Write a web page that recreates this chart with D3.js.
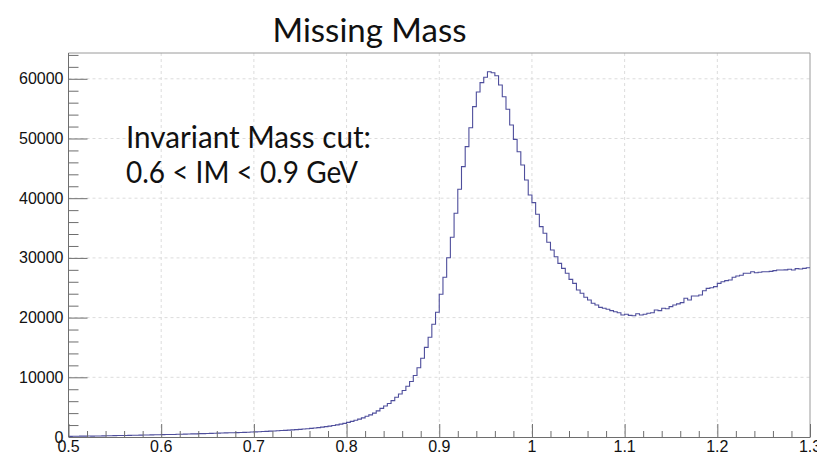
<!DOCTYPE html>
<html>
<head>
<meta charset="utf-8">
<script src="https://cdn.jsdelivr.net/npm/d3@7"></script>
<style>
  body { margin: 0; background: #fff; }
  svg { display: block; }
</style>
</head>
<body>
<script>
// histogram: 200 bins from 0.5 to 1.3 (bin width 0.004)
var binStart = 0.5, binWidth = 0.004;

var counts = [
  110, 130, 120, 140, 150, 160, 150, 170, 180, 190,
  200, 210, 230, 240, 250, 260, 280, 290, 300, 310,
  330, 340, 350, 370, 380,
  400, 410, 430, 420, 450, 470, 480, 500, 520, 530,
  560, 570, 590, 610, 620, 650, 660, 690, 700, 720,
  740, 760, 780, 800, 830,
  860, 890, 920, 940, 980, 1010, 1040, 1080, 1110, 1150,
  1190, 1240, 1280, 1330, 1380, 1440, 1500, 1570, 1650, 1730,
  1820, 1920, 2030, 2150, 2280,
  2450, 2620, 2800, 3000, 3200, 3480, 3700, 4000, 4380, 4800,
  5200, 5600, 6100, 6650, 7200, 7800, 8500, 9300, 10300, 11600,
  13200, 15020, 16700, 18880, 20890, 23900, 26750, 30030, 33450, 37470,
  41490, 45280, 48630, 51810, 55330, 57790, 59350, 60250, 61190,
  61020, 60520, 58960, 57000, 54890, 52260, 49860, 47790, 45560, 43050,
  40540, 39250, 37300, 35230, 34120, 32610,
  31320, 30200, 29090, 28250, 27420, 26410, 25740, 24620, 24070, 23400,
  22950, 22400, 22110, 21720, 21560, 21390, 21160, 20990, 20820, 20440,
  20550, 20380, 20300, 20650, 20440, 20550, 20720, 20820, 21270, 21160,
  21560, 21490, 21830, 22110, 22300, 22500, 23230, 22950, 23620, 23620,
  23785, 24500, 24900, 25000, 25180, 25740, 26010, 26200, 26300, 26750,
  26970, 27100, 27420, 27420, 27690, 27520, 27600, 27690, 27690, 27750,
  27860, 27970, 27970, 28000, 28090, 27970, 28200, 28150, 28250, 28360
];

var xMajor = [0.5, 0.6, 0.7, 0.8, 0.9, 1.0, 1.1, 1.2, 1.3];
var xLabels = ["0.5", "0.6", "0.7", "0.8", "0.9", "1", "1.1", "1.2", "1.3"];
var yMajor = [0, 10000, 20000, 30000, 40000, 50000, 60000];
var yLabels = ["0", "10000", "20000", "30000", "40000", "50000", "60000"];

var title = "Missing Mass";
var note = ["Invariant Mass cut:", "0.6 < IM < 0.9 GeV"];

(function() {
  var width = 817, height = 462;
  var pLeft = 68.5, pRight = 810, pTop = 53, pBottom = 437;

  var svg = d3.select("body").append("svg")
    .attr("width", width)
    .attr("height", height);

  var x = d3.scaleLinear().domain([0.5, 1.3]).range([pLeft, pRight]);
  var y = d3.scaleLinear().domain([0, 64320]).range([pBottom, pTop]);

  // grid
  svg.append("g")
    .selectAll("line")
    .data(xMajor.slice(1, -1))
    .enter().append("line")
      .attr("x1", function(d) { return x(d); })
      .attr("x2", function(d) { return x(d); })
      .attr("y1", pTop)
      .attr("y2", pBottom)
      .attr("stroke", "#dcdcdc")
      .attr("stroke-dasharray", "3,3");

  svg.append("g")
    .selectAll("line")
    .data(yMajor.slice(1))
    .enter().append("line")
      .attr("x1", pLeft)
      .attr("x2", pRight)
      .attr("y1", function(d) { return y(d); })
      .attr("y2", function(d) { return y(d); })
      .attr("stroke", "#dcdcdc")
      .attr("stroke-dasharray", "3,3");

  // frame top / right
  svg.append("path")
    .attr("d", "M" + pLeft + "," + pTop + "H" + pRight + "V" + pBottom)
    .attr("fill", "none")
    .attr("stroke", "#9a9a9a");

  // histogram outline
  var pts = [];
  counts.forEach(function(c, i) {
    var x0 = binStart + i * binWidth;
    pts.push([x0, c]);
    pts.push([x0 + binWidth, c]);
  });

  svg.append("path")
    .datum(pts)
    .attr("fill", "none")
    .attr("stroke", "#4e4e9c")
    .attr("stroke-width", 1.1)
    .attr("d", d3.line()
      .x(function(d) { return x(d[0]); })
      .y(function(d) { return y(d[1]); }));

  // x axis
  var xAxis = d3.axisTop(x)
    .tickValues(d3.range(0.5, 1.3001, 0.02))
    .tickSizeInner(6)
    .tickSizeOuter(0)
    .tickFormat("");

  var gx = svg.append("g")
    .attr("transform", "translate(0," + pBottom + ")")
    .call(xAxis);

  gx.selectAll(".tick line")
    .attr("y2", function(d) {
      var isMajor = xMajor.some(function(m) { return Math.abs(m - d) < 1e-6; });
      return isMajor ? -13 : -6;
    });

  gx.selectAll("line, path").attr("stroke", "#6e6e6e");

  svg.append("g")
    .selectAll("text")
    .data(xMajor)
    .enter().append("text")
      .attr("x", function(d) { return x(d); })
      .attr("y", pBottom + 15)
      .attr("text-anchor", "middle")
      .attr("font-family", "Liberation Sans, Arial, sans-serif")
      .attr("font-size", 16)
      .attr("fill", "#111")
      .text(function(d, i) { return xLabels[i]; });

  // y axis
  var yAxis = d3.axisRight(y)
    .tickValues(d3.range(0, 64001, 2000))
    .tickSizeOuter(0)
    .tickFormat("");

  var gy = svg.append("g")
    .attr("transform", "translate(" + pLeft + ",0)")
    .call(yAxis);

  gy.selectAll(".tick line")
    .attr("x2", function(d) { return d % 10000 === 0 ? 19 : 10; });

  gy.select(".domain").attr("d", "M0," + pTop + "V" + pBottom);
  gy.selectAll("line, path").attr("stroke", "#6e6e6e");

  svg.append("g")
    .selectAll("text")
    .data(yMajor)
    .enter().append("text")
      .attr("x", pLeft - 5)
      .attr("y", function(d) { return y(d); })
      .attr("dy", "0.35em")
      .attr("text-anchor", "end")
      .attr("font-family", "Liberation Sans, Arial, sans-serif")
      .attr("font-size", 16)
      .attr("fill", "#111")
      .text(function(d, i) { return yLabels[i]; });

  // title
  svg.append("text")
    .attr("x", 369.5)
    .attr("y", 42)
    .attr("text-anchor", "middle")
    .attr("font-family", "Lato, Carlito, sans-serif")
    .attr("font-size", 33)
    .attr("fill", "#111")
    .text(title);

  // note
  var noteWidth = [245, 232];
  svg.append("g")
    .selectAll("text")
    .data(note)
    .enter().append("text")
      .attr("x", 126)
      .attr("y", function(d, i) { return 148 + i * 35; })
      .attr("font-family", "Lato, Carlito, sans-serif")
      .attr("font-size", 30)
      .attr("fill", "#111")
      .attr("textLength", function(d, i) { return noteWidth[i]; })
      .attr("lengthAdjust", "spacingAndGlyphs")
      .text(function(d) { return d; });
})();
</script>
</body>
</html>
